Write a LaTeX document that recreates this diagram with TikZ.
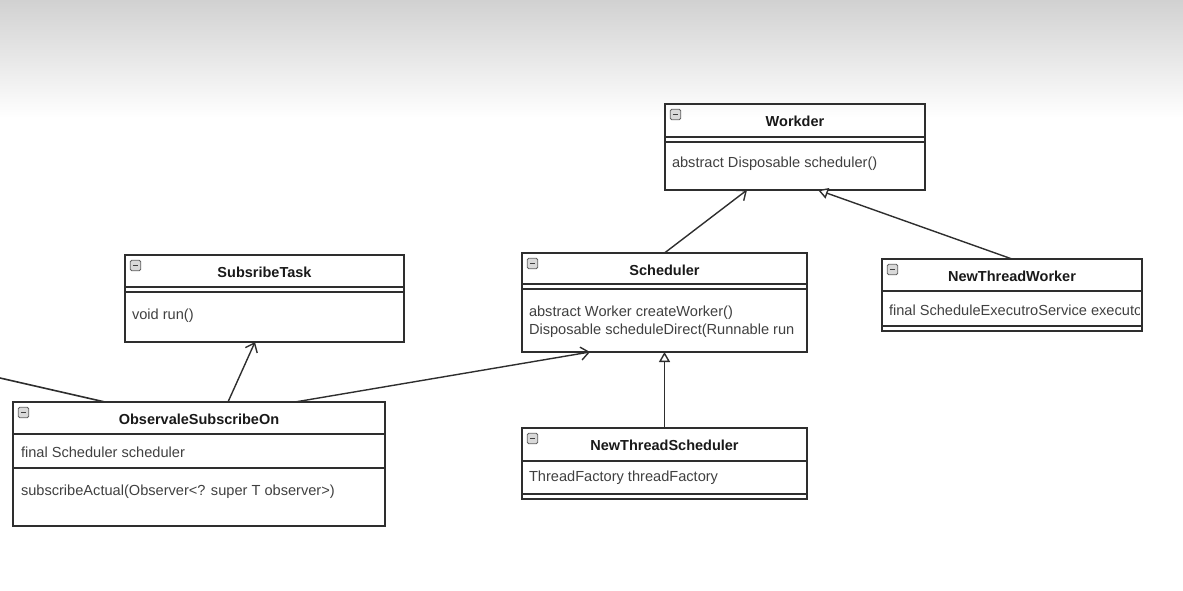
\documentclass[tikz,border=0pt]{standalone}
\usepackage{fontspec}
\setmainfont{Liberation Sans}
\usetikzlibrary{arrows.meta,calc}
\definecolor{umlline}{HTML}{2E2E2E}
\definecolor{umltext}{HTML}{404040}

\begin{document}
\begin{tikzpicture}
  [x=1pt,y=-1pt,
   every node/.style={inner sep=0pt,outer sep=0pt},
   classbox/.style={draw=umlline,line width=1.6pt,rectangle,anchor=north west},
   title/.style={font=\fontsize{14.5}{17}\selectfont\bfseries,text=black!90},
   member/.style={font=\fontsize{14.6}{17}\selectfont,text=umltext,anchor=west},
   icon/.style={draw=gray!75!black,fill=gray!30,line width=0.8pt,rounded corners=1.5pt,minimum size=10.5pt,
                path picture={\draw[gray!50!black,line width=1.2pt]
                ([xshift=2.5pt]path picture bounding box.west) -- ([xshift=-2.5pt]path picture bounding box.east);}},
   assoc/.style={draw=umlline,line width=1.4pt,-{Straight Barb[length=8pt,width=13pt,line width=1.4pt]}},
   inherit/.style={draw=umlline,line width=1.4pt,-{Triangle[open,fill=white,length=10pt,width=11pt,line width=1.4pt]}},
   wire/.style={draw=umlline,line width=1.6pt}]
  \useasboundingbox (0,0) rectangle (1183,591);
  \shade[top color=black!18,bottom color=white] (0,0) rectangle (1183,118);

  % class boxes
  \node[classbox,minimum width=260pt,minimum height=86pt]  (workder)  at (665,104) {};
  \node[classbox,minimum width=285pt,minimum height=99pt]  (sched)    at (522,253) {};
  \node[classbox,minimum width=260pt,minimum height=72pt]  (ntworker) at (882,259) {};
  \node[classbox,minimum width=279pt,minimum height=87pt]  (task)     at (125,255) {};
  \node[classbox,minimum width=372pt,minimum height=124pt] (obs)      at (13,402)  {};
  \node[classbox,minimum width=285pt,minimum height=71pt]  (ntsched)  at (522,428) {};

  \foreach \b/\t in {workder/Workder,sched/Scheduler,ntworker/NewThreadWorker,
                     task/SubsribeTask,obs/ObservaleSubscribeOn,ntsched/NewThreadScheduler}{
    \node[icon] (\b-icon) at ([xshift=10.5pt,yshift=-10.5pt]\b.north west) {};
    \node[title] (\b-title) at ([yshift=-17.5pt]\b.north) {\t};
  }

  % compartments
  \foreach \b/\h in {workder/33,sched/31,task/32}{
    \draw[wire] ([yshift=-\h pt]\b.north west) -- ([yshift=-\h pt]\b.north east);
    \draw[wire] ([yshift=-\h pt-5pt]\b.north west) -- ([yshift=-\h pt-5pt]\b.north east);
  }
  \draw[wire] ([yshift=-32pt]ntworker.north west) -- ([yshift=-32pt]ntworker.north east);
  \draw[wire] ([yshift=5pt]ntworker.south west) -- ([yshift=5pt]ntworker.south east);
  \draw[wire] ([yshift=-32pt]obs.north west) -- ([yshift=-32pt]obs.north east);
  \draw[wire] ([yshift=-66pt]obs.north west) -- ([yshift=-66pt]obs.north east);
  \draw[wire] ([yshift=-33pt]ntsched.north west) -- ([yshift=-33pt]ntsched.north east);
  \draw[wire] ([yshift=5pt]ntsched.south west) -- ([yshift=5pt]ntsched.south east);

  % members
  \node[member] (workder-m1) at (672,164) {abstract Disposable scheduler()};
  \node[member] (sched-m1)   at (529,313) {abstract Worker createWorker()};
  \node[member] (sched-m2)   at (529,331) {Disposable scheduleDirect(Runnable run};
  \begin{scope}
    \clip ([xshift=2pt]ntworker.south west) rectangle ([xshift=-3pt]ntworker.north east);
    \node[member] (ntworker-m1) at (889,310) {final ScheduleExecutroService executor};
  \end{scope}
  \node[member] (task-m1)    at (132,316) {void run()};
  \node[member] (obs-m1)     at (21,452)  {final Scheduler scheduler};
  \node[member] (obs-m2)     at (21,492)  {subscribeActual(Observer<? super T observer>)};
  \node[member] (ntsched-m1) at (529,478) {ThreadFactory threadFactory};

  % relations
  \coordinate (offleft) at (0,378);
  \draw[assoc]   (sched.north) -- ([xshift=-48pt]workder.south);
  \draw[inherit] (ntworker.north) -- ([xshift=23pt]workder.south);
  \draw[assoc]   ([xshift=29pt]obs.north) -- ([xshift=-9.5pt]task.south);
  \draw[assoc]   ([xshift=96pt]obs.north) -- ([xshift=-74.5pt]sched.south);
  \draw[inherit] (ntsched.north) -- (sched.south);
  \draw[wire]    (offleft) -- ([xshift=-94pt]obs.north);

\end{tikzpicture}
\end{document}
